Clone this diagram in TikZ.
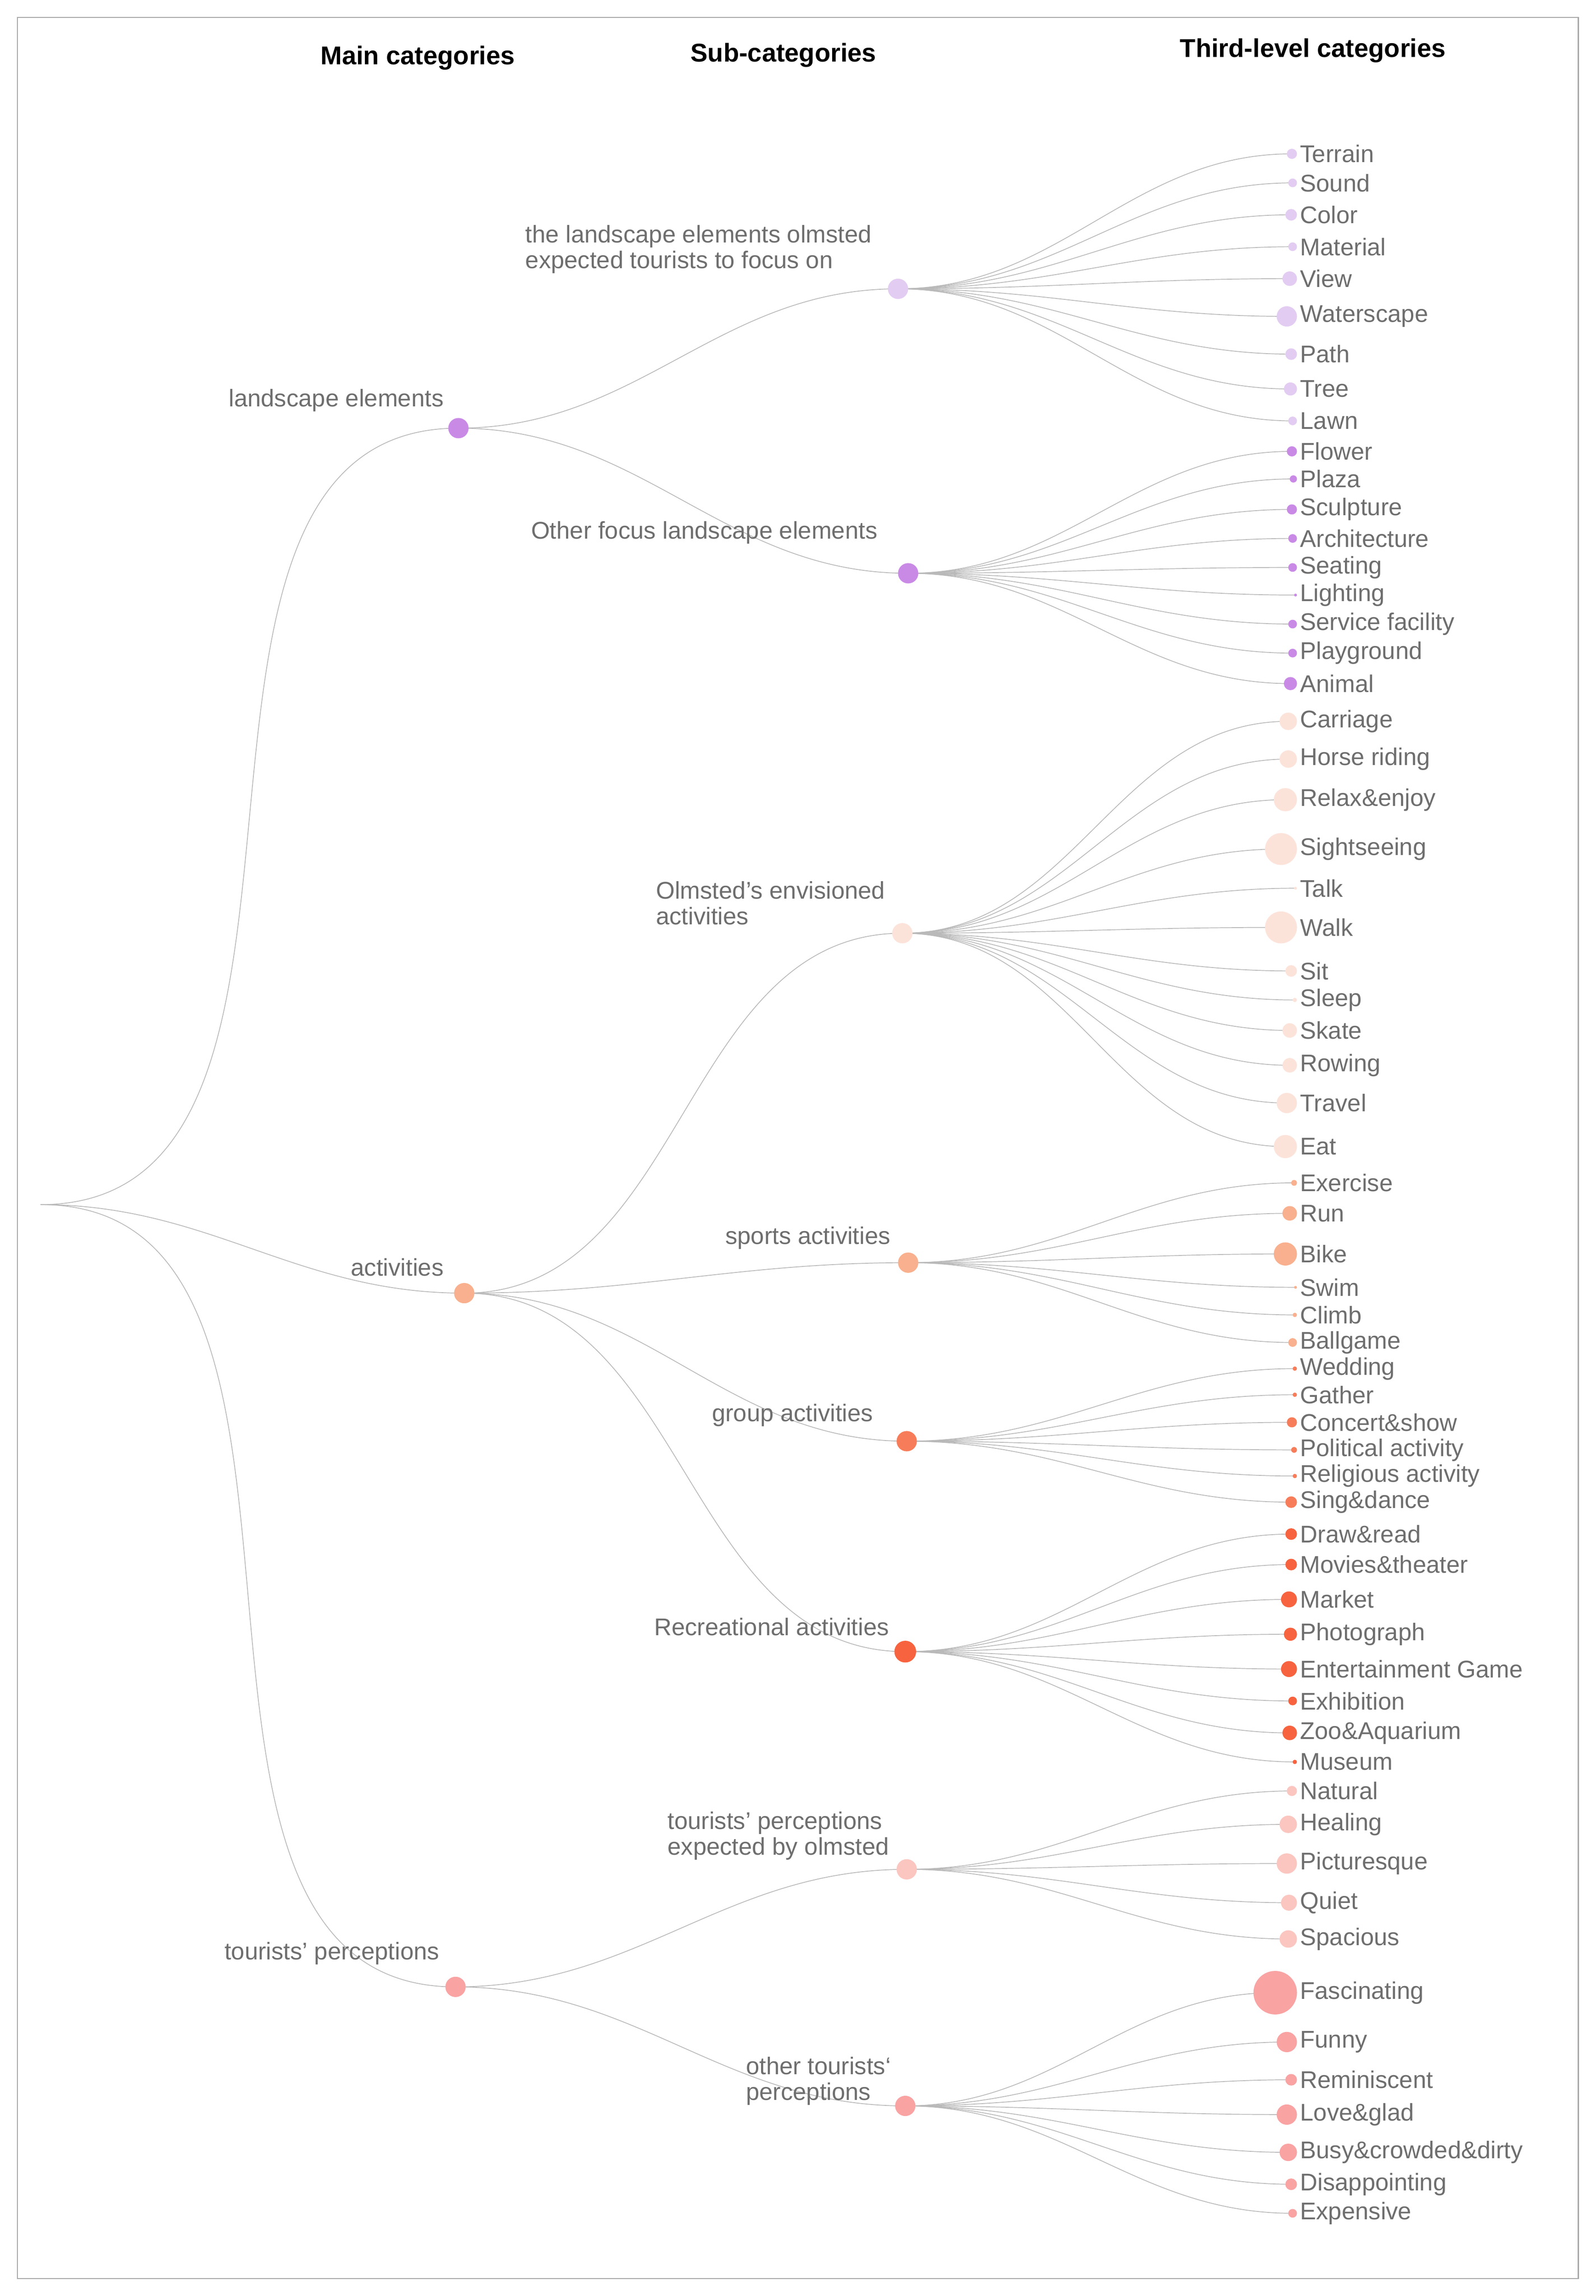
\documentclass[tikz,border=0pt]{standalone}
\usepackage{fontspec}
\setmainfont{Liberation Sans}
\usetikzlibrary{calc}
\definecolor{lavL}{HTML}{E3CCF2}
\definecolor{lavD}{HTML}{C98AE6}
\definecolor{peachL}{HTML}{FCE3DA}
\definecolor{peach}{HTML}{F9B08E}
\definecolor{coral}{HTML}{F77D5A}
\definecolor{coralD}{HTML}{F7633F}
\definecolor{pinkL}{HTML}{FBC6C0}
\definecolor{pink}{HTML}{F9A3A3}
\definecolor{txt}{HTML}{6E6E6E}
\tikzset{
  branch/.style={draw=gray!55, line width=0.5pt, out=0, in=180},
  lab/.style={text=txt, font=\fontsize{15.5}{16.5}\selectfont, inner sep=0pt},
  head/.style={font=\bfseries\fontsize{16.5}{18}\selectfont, inner sep=0pt}
}
\begin{document}
\begin{tikzpicture}[x=0.03273cm, y=-0.03273cm]
    \def\u{0.03273cm}
    \useasboundingbox (0,0) rectangle (1100,1582);
    \draw[gray!70, line width=0.8pt] (12,12) rectangle (1088,1570);

    % headers
    \node[head] at (288,40) {Main categories};
    \node[head] at (540,38) {Sub-categories};
    \node[head] at (905,35) {Third-level categories};

    % root, main and sub categories
    \coordinate (root) at (28,830);
    \coordinate (land) at (316,295);
    \coordinate (act) at (320,891);
    \coordinate (perc) at (314,1369);
    \coordinate (s1) at (619,199);
    \coordinate (s2) at (626,395);
    \coordinate (s3) at (622,643);
    \coordinate (s4) at (626,870);
    \coordinate (s5) at (625,993);
    \coordinate (s6) at (624,1138);
    \coordinate (s7) at (625,1288);
    \coordinate (s8) at (624,1451);

    \draw[branch] (root) to (land);
    \draw[branch] (root) to (act);
    \draw[branch] (root) to (perc);
    \draw[branch] (land) to (s1);
    \draw[branch] (land) to (s2);
    \draw[branch] (act) to (s3);
    \draw[branch] (act) to (s4);
    \draw[branch] (act) to (s5);
    \draw[branch] (act) to (s6);
    \draw[branch] (perc) to (s7);
    \draw[branch] (perc) to (s8);

    % third-level categories
    \foreach \t/\y/\r [count=\i] in {Terrain/106/3.5, Sound/126/3, Color/148/4, Material/170/3,
        View/192/5, Waterscape/218/7, Path/244/4, Tree/268/4.5, Lawn/290/3} {
      \coordinate (a\i) at ({894-\r},\y);
      \draw[branch] (s1) to (a\i);
      \fill[lavL] (a\i) circle[radius=\r*\u];
      \node[lab, anchor=west] at (896,\y) {\t};
    }
    \foreach \t/\y/\r [count=\i] in {Flower/311/3.5, Plaza/330/2.5, Sculpture/351/3.5,
        Architecture/371/3, Seating/391/3, Lighting/410/1, Service facility/430/3,
        Playground/450/3, Animal/471/4.5} {
      \coordinate (b\i) at ({894-\r},\y);
      \draw[branch] (s2) to (b\i);
      \fill[lavD] (b\i) circle[radius=\r*\u];
      \node[lab, anchor=west] at (896,\y) {\t};
    }
    \foreach \t/\y/\r [count=\i] in {Carriage/497/6, Horse riding/523/6, Relax\&enjoy/551/8,
        Sightseeing/585/11, Talk/612/1, Walk/639/11, Sit/669/4, Sleep/689/1.5, Skate/710/5,
        Rowing/734/5, Travel/760/7, Eat/790/8} {
      \coordinate (c\i) at ({894-\r},\y);
      \draw[branch] (s3) to (c\i);
      \fill[peachL] (c\i) circle[radius=\r*\u];
      \node[lab, anchor=west] at (896,\y) {\t};
    }
    \foreach \t/\y/\r [count=\i] in {Exercise/815/2, Run/836/5, Bike/864/8, Swim/887/1,
        Climb/906/1.5, Ballgame/925/3} {
      \coordinate (d\i) at ({894-\r},\y);
      \draw[branch] (s4) to (d\i);
      \fill[peach] (d\i) circle[radius=\r*\u];
      \node[lab, anchor=west] at (896,\y) {\t};
    }
    \foreach \t/\y/\r [count=\i] in {Wedding/943/1.5, Gather/961/1.5, Concert\&show/980/3.5,
        Political activity/999/2, Religious activity/1017/1.5, Sing\&dance/1035/4} {
      \coordinate (e\i) at ({894-\r},\y);
      \draw[branch] (s5) to (e\i);
      \fill[coral] (e\i) circle[radius=\r*\u];
      \node[lab, anchor=west] at (896,\y) {\t};
    }
    \foreach \t/\y/\r [count=\i] in {Draw\&read/1057/4, Movies\&theater/1078/4, Market/1102/5.5,
        Photograph/1126/4.5, Entertainment Game/1150/5.5, Exhibition/1172/3,
        Zoo\&Aquarium/1194/5, Museum/1214/1.5} {
      \coordinate (f\i) at ({894-\r},\y);
      \draw[branch] (s6) to (f\i);
      \fill[coralD] (f\i) circle[radius=\r*\u];
      \node[lab, anchor=west] at (896,\y) {\t};
    }
    \foreach \t/\y/\r [count=\i] in {Natural/1234/3.5, Healing/1257/6, Picturesque/1284/7,
        Quiet/1311/5.5, Spacious/1336/6} {
      \coordinate (g\i) at ({894-\r},\y);
      \draw[branch] (s7) to (g\i);
      \fill[pinkL] (g\i) circle[radius=\r*\u];
      \node[lab, anchor=west] at (896,\y) {\t};
    }
    \foreach \t/\y/\r [count=\i] in {Fascinating/1373/15, Funny/1407/7, Reminiscent/1433/4,
        Love\&glad/1457/7, Busy\&crowded\&dirty/1483/6, Disappointing/1505/4, Expensive/1525/3} {
      \coordinate (h\i) at ({894-\r},\y);
      \draw[branch] (s8) to (h\i);
      \fill[pink] (h\i) circle[radius=\r*\u];
      \node[lab, anchor=west] at (896,\y) {\t};
    }

    % category dots
    \fill[lavD] (land) circle[radius=7*\u];
    \fill[peach] (act) circle[radius=7*\u];
    \fill[pink] (perc) circle[radius=7*\u];
    \fill[lavL] (s1) circle[radius=7*\u];
    \fill[lavD] (s2) circle[radius=7*\u];
    \fill[peachL] (s3) circle[radius=7*\u];
    \fill[peach] (s4) circle[radius=7*\u];
    \fill[coral] (s5) circle[radius=7*\u];
    \fill[coralD] (s6) circle[radius=7.5*\u];
    \fill[pinkL] (s7) circle[radius=7*\u];
    \fill[pink] (s8) circle[radius=7*\u];

    % category labels
    \node[lab, anchor=east] at (306,276) {landscape elements};
    \node[lab, anchor=east] at (306,873) {activities};
    \node[lab, anchor=east] at (303,1346) {tourists' perceptions};
    \node[lab, anchor=north west, align=left] at (362,155) {the landscape elements olmsted\\expected tourists to focus on};
    \node[lab, anchor=east] at (605,367) {Other focus landscape elements};
    \node[lab, anchor=north west, align=left] at (452,607) {Olmsted's envisioned\\activities};
    \node[lab, anchor=east] at (614,853) {sports activities};
    \node[lab, anchor=east] at (602,975) {group activities};
    \node[lab, anchor=east] at (613,1121) {Recreational activities};
    \node[lab, anchor=north west, align=left] at (460,1248) {tourists' perceptions\\expected by olmsted};
    \node[lab, anchor=north west, align=left] at (514,1417) {other tourists‘\\perceptions};
\end{tikzpicture}
\end{document}
